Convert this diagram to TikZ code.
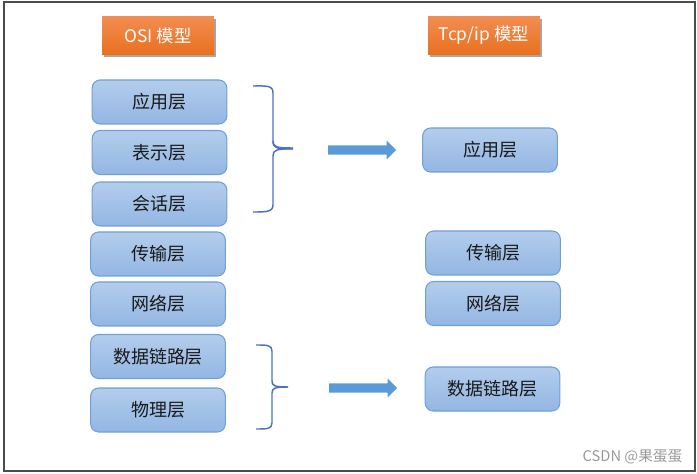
\documentclass[tikz,border=0pt]{standalone}
\usepackage{fontspec}
\setmainfont{Noto Sans CJK SC}
\usetikzlibrary{shadows}
\definecolor{boxtop}{HTML}{B3CDEC}
\definecolor{boxbot}{HTML}{93B6E3}
\definecolor{boxline}{HTML}{6FA0D8}
\definecolor{hdtop}{HTML}{F28D52}
\definecolor{hdbot}{HTML}{E9701D}
\definecolor{brace}{HTML}{4A72C2}
\definecolor{arrowc}{HTML}{5B9BD5}
\begin{document}
\begin{tikzpicture}[x=0.75pt,y=-0.75pt,
  layer/.style={draw=boxline,line width=0.8pt,rounded corners=6pt,
    top color=boxtop,bottom color=boxbot,minimum width=101pt,minimum height=33pt,
    inner sep=0pt,font=\fontsize{13.5}{15}\selectfont,text=black!90},
  header/.style={fill=hdbot,top color=hdtop,bottom color=hdbot,minimum width=84pt,
    minimum height=29pt,inner sep=0pt,text=white,font=\fontsize{13}{15}\selectfont,
    drop shadow={shadow xshift=1.2pt,shadow yshift=-2pt,opacity=0.35,fill=black}},
  bracestyle/.style={draw=brace,line width=1.1pt},
  fatarrow/.style={fill=arrowc}]
\useasboundingbox (0,0) rectangle (697,474);
\draw[line width=1.5pt,draw=black!70] (3.5,2) rectangle (695,470.5);
% headers
\node[header] (osi) at (158,35.5) {OSI 模型};
\node[header] (tcp) at (484,35.5) {Tcp/ip 模型};
% OSI layers
\node[layer] (app) at (159.5,102) {应用层};
\node[layer] (pre) at (159.5,152.5) {表示层};
\node[layer] (ses) at (159.5,204) {会话层};
\node[layer] (tra) at (158,254) {传输层};
\node[layer] (net) at (158,304) {网络层};
\node[layer] (dl)  at (158,356.5) {数据链路层};
\node[layer] (phy) at (158,410) {物理层};
% TCP/IP layers
\node[layer] (tapp) at (490,150) {应用层};
\node[layer] (ttra) at (493,253) {传输层};
\node[layer] (tnet) at (493,303.5) {网络层};
\node[layer] (tdl)  at (492.5,389) {数据链路层};
% braces
\draw[bracestyle] (253,86) .. controls (266,86) and (273,85) .. (273,93)
  -- (273,141) .. controls (273,147) and (276,148) .. (293,148);
\draw[bracestyle] (273,141) .. controls (273,148) and (276,149) .. (293,149);
\draw[bracestyle] (293,148.5) .. controls (276,149) and (273,150) .. (273,156)
  -- (273,205) .. controls (273,212) and (266,212) .. (253,212);
\draw[bracestyle] (256,345) .. controls (267,345) and (272,345) .. (272,351)
  -- (272,381) .. controls (272,386) and (275,387) .. (288,387);
\draw[bracestyle] (288,387) .. controls (275,387) and (272,388) .. (272,393)
  -- (272,423) .. controls (272,429) and (267,429) .. (256,429);
% fat arrows
\coordinate (a1s) at (328,150);
\coordinate (a1e) at (396,150);
\coordinate (a2s) at (329,388);
\coordinate (a2e) at (397,388);
\fill[fatarrow] ([yshift=3.5]a1s) -- ([xshift=-7,yshift=3.5]a1e) -- ([xshift=-7,yshift=7]a1e)
  -- (a1e) -- ([xshift=-7,yshift=-7]a1e) -- ([xshift=-7,yshift=-3.5]a1e) -- ([yshift=-3.5]a1s) -- cycle;
\fill[fatarrow] ([yshift=3.5]a2s) -- ([xshift=-7,yshift=3.5]a2e) -- ([xshift=-7,yshift=7]a2e)
  -- (a2e) -- ([xshift=-7,yshift=-7]a2e) -- ([xshift=-7,yshift=-3.5]a2e) -- ([yshift=-3.5]a2s) -- cycle;
% watermark
\node[text=black!40,font=\fontsize{11}{12}\selectfont,inner sep=0pt] (wm) at (632.5,457) {CSDN @果蛋蛋};
\end{tikzpicture}
\end{document}
